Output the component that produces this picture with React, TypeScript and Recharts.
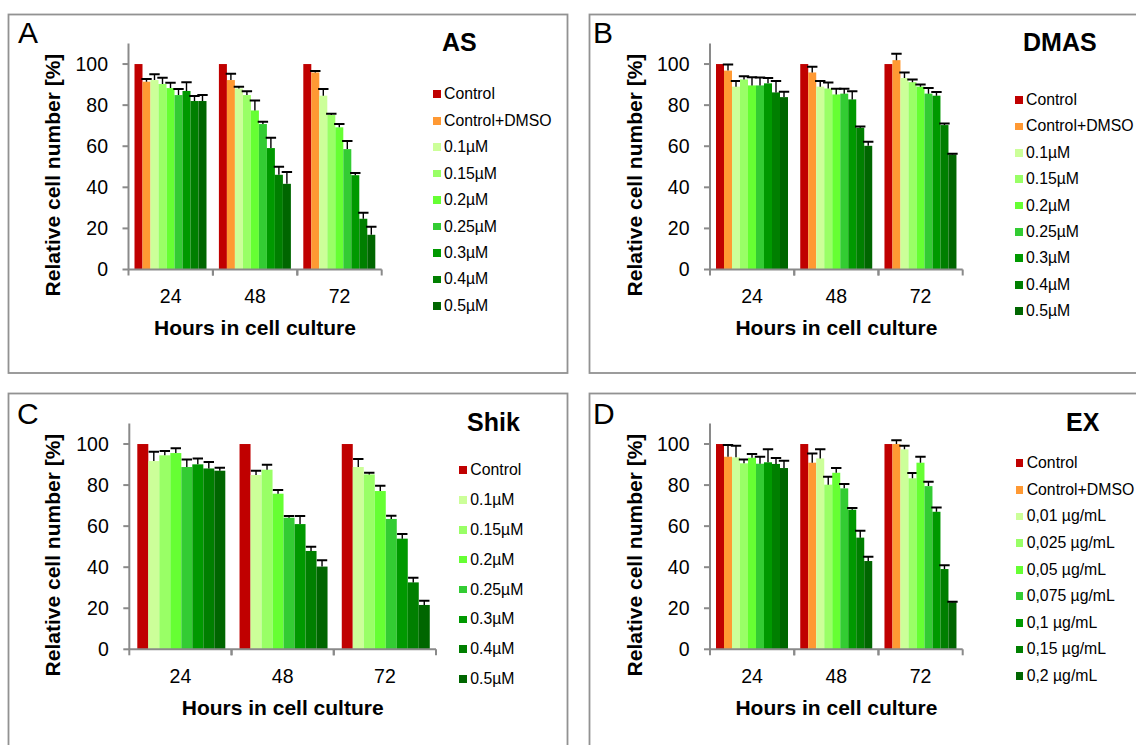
import { BarChart, Bar, XAxis, YAxis, Legend } from 'recharts';

const hours = ['24', '48', '72'];

const red = '#C00000';
const orange = '#FF9933';
const greens = ['#CCFF99', '#99FF66', '#66FF33', '#33CC33', '#009900', '#007F00', '#006600'];

// AS
const asNames = ['Control', 'Control+DMSO', '0.1µM', '0.15µM', '0.2µM', '0.25µM', '0.3µM', '0.4µM', '0.5µM'];
const asMean = [
  [100, 100, 100],
  [91.4, 92.2, 95.9],
  [92.2, 88.1, 84.6],
  [90.3, 84.9, 75.2],
  [88.3, 77.4, 69.2],
  [84.9, 70.8, 58.6],
  [86.9, 59.1, 45.9],
  [82.0, 46.1, 24.7],
  [82.0, 41.7, 16.9],
];
const asErr = [
  [0, 0, 0],
  [1.3, 3.1, 0.7],
  [2.8, 0.8, 3.2],
  [3.0, 1.8, 0.6],
  [2.6, 4.9, 1.6],
  [2.9, 1.1, 3.9],
  [4.2, 5.0, 1.1],
  [2.4, 3.9, 2.9],
  [2.9, 5.7, 3.9],
];

// DMAS
const dmasNames = asNames;
const dmasMean = [
  [100, 100, 100],
  [96.8, 95.9, 101.9],
  [89.0, 89.0, 93.2],
  [92.5, 88.1, 91.2],
  [89.6, 85.2, 89.0],
  [89.6, 85.6, 85.6],
  [90.6, 82.8, 84.6],
  [86.2, 69.0, 70.3],
  [83.9, 60.2, 56.0],
];
const dmasErr = [
  [0, 0, 0],
  [3.0, 2.8, 3.1],
  [2.7, 2.7, 2.7],
  [1.6, 2.9, 1.3],
  [4.0, 2.8, 1.0],
  [3.9, 2.4, 2.7],
  [2.6, 3.9, 1.8],
  [5.5, 0.6, 0.8],
  [2.6, 2.0, 0.3],
];

// Shik (no DMSO control)
const shikNames = ['Control', '0.1µM', '0.15µM', '0.2µM', '0.25µM', '0.3µM', '0.4µM', '0.5µM'];
const shikMean = [
  [100, 100, 100],
  [91.7, 84.9, 88.8],
  [94.5, 87.5, 85.2],
  [95.6, 75.8, 77.1],
  [88.8, 64.1, 63.5],
  [90.1, 61.0, 53.9],
  [88.1, 47.9, 32.6],
  [87.0, 40.3, 21.6],
];
const shikErr = [
  [0, 0, 0],
  [4.5, 2.1, 3.9],
  [2.1, 2.4, 0.8],
  [2.3, 1.8, 2.6],
  [3.7, 0.8, 1.5],
  [2.8, 3.9, 2.3],
  [3.1, 2.1, 2.3],
  [1.5, 3.1, 2.1],
];

// EX
const exNames = ['Control', 'Control+DMSO', '0,01 µg/mL', '0,025 µg/mL', '0,05 µg/mL', '0,075 µg/mL', '0,1 µg/mL', '0,15 µg/mL', '0,2 µg/mL'];
const exMean = [
  [100, 100, 100],
  [93.8, 90.9, 100],
  [93.5, 93.0, 97.4],
  [90.6, 80.2, 83.3],
  [93.3, 86.0, 90.9],
  [90.4, 78.4, 79.5],
  [91.1, 68.0, 67.0],
  [90.3, 54.4, 39.1],
  [88.3, 43.0, 22.9],
];
const exErr = [
  [0, 0, 0],
  [5.7, 4.5, 1.8],
  [5.7, 4.4, 1.8],
  [1.9, 3.9, 2.6],
  [1.9, 2.3, 2.9],
  [3.4, 2.1, 2.1],
  [6.3, 0.8, 2.1],
  [2.9, 3.4, 1.9],
  [3.6, 2.1, 0.3],
];

const yTicks = [0, 20, 40, 60, 80, 100];

const FONT = '"Liberation Sans", Arial, Helvetica, sans-serif';
const AXIS = '#8a8a8a';
const FRAME = '#929292';
const Y_W = 60;
const X_H = 40;

function buildRows(names: string[], mean: number[][], err: number[][]) {
  return hours.map((h, i) => {
    const row: any = { hour: h };
    names.forEach((_, s) => {
      row['v' + s] = mean[s][i];
      row['e' + s] = err[s][i];
    });
    return row;
  });
}

// bar rect plus a one-sided (upper) error bar, scaled from the bar's own height
function barShape(valKey: string, errKey: string) {
  return (p: any) => {
    const { x, y, width, height, fill, payload } = p;
    const v = payload[valKey];
    const e = payload[errKey];
    const len = v ? (e / v) * height : 0;
    const cx = x + width / 2;
    return (
      <g>
        <rect x={x} y={y} width={width} height={height} fill={fill} />
        {e > 0 && (
          <g>
            <line x1={cx} x2={cx} y1={y} y2={y - len} stroke="#000" strokeWidth={1.4} />
            <line x1={cx - 5.2} x2={cx + 5.2} y1={y - len} y2={y - len} stroke="#000" strokeWidth={2} />
          </g>
        )}
      </g>
    );
  };
}

function HourTick(props: any) {
  const { x, y, payload, band } = props;
  const half = payload && payload.offset > 0 ? payload.offset : band / 2;
  return (
    <g>
      <line x1={x - half} x2={x - half} y1={y} y2={y + 6} stroke={AXIS} strokeWidth={2} />
      <line x1={x + half} x2={x + half} y1={y} y2={y + 6} stroke={AXIS} strokeWidth={2} />
      <text x={x} y={y + 33.5} textAnchor="middle" fontSize={19.5} fontFamily={FONT} fill="#000">
        {payload.value}
      </text>
    </g>
  );
}

// legend rows kept in series order (the default sorter orders by label)
function legendContent(rowH: number, names: string[]) {
  return (props: any) => {
    const items = [...(props.payload || [])].sort(
      (a: any, b: any) => names.indexOf(a.value) - names.indexOf(b.value)
    );
    return (
      <div style={{ fontFamily: FONT, fontSize: 15.8, color: '#000' }}>
        {items.map((item: any) => (
          <div key={item.value} style={{ height: rowH, display: 'flex', alignItems: 'center', whiteSpace: 'nowrap' }}>
            <span style={{ display: 'inline-block', width: 7.7, height: 7.7, background: item.color, marginRight: 3.3 }} />
            <span>{item.value}</span>
          </div>
        ))}
      </div>
    );
  };
}

type PanelProps = {
  names: string[];
  mean: number[][];
  err: number[][];
  colors: string[];
  left: number;
  top: number;
  width: number;
  height: number;
  margin: { top: number; right: number; bottom: number; left: number };
  catGap: number;
  legendLeft: number;
  legendTop: number;
  rowH: number;
};

function Panel(p: PanelProps) {
  const rows = buildRows(p.names, p.mean, p.err);
  const band = (p.width - p.margin.left - p.margin.right - Y_W) / hours.length;
  return (
    <div style={{ position: 'absolute', left: p.left, top: p.top }}>
      <BarChart
        width={p.width}
        height={p.height}
        data={rows}
        margin={p.margin}
        barGap={0}
        barCategoryGap={p.catGap}
      >
        <XAxis
          dataKey="hour"
          height={X_H}
          interval={0}
          tickSize={0}
          tickMargin={0}
          tickLine={false}
          axisLine={{ stroke: AXIS, strokeWidth: 2 }}
          tick={(t: any) => <HourTick {...t} band={band} />}
        />
        <YAxis
          width={Y_W}
          domain={[0, 110]}
          allowDataOverflow
          ticks={yTicks}
          interval={0}
          tickSize={6}
          tickMargin={14.5}
          axisLine={{ stroke: AXIS, strokeWidth: 2 }}
          tickLine={{ stroke: AXIS, strokeWidth: 2 }}
          tick={{ fill: '#000', fontSize: 19.5, fontFamily: FONT }}
        />
        {p.names.map((n, s) => (
          <Bar
            key={n}
            dataKey={'v' + s}
            name={n}
            fill={p.colors[s]}
            isAnimationActive={false}
            shape={barShape('v' + s, 'e' + s)}
          />
        ))}
        <Legend
          layout="vertical"
          align="center"
          verticalAlign="middle"
          wrapperStyle={{ left: p.legendLeft, top: p.legendTop }}
          content={legendContent(p.rowH, p.names)}
        />
      </BarChart>
    </div>
  );
}

function YTitle({ x, y }: { x: number; y: number }) {
  return (
    <text x={x} y={y} transform={`rotate(-90 ${x} ${y})`} textAnchor="middle" fontSize={21} fontWeight="bold" fontFamily={FONT}>
      Relative cell number [%]
    </text>
  );
}

function XTitle({ x, y }: { x: number; y: number }) {
  return (
    <text x={x} y={y} textAnchor="middle" fontSize={21} fontWeight="bold" fontFamily={FONT}>
      Hours in cell culture
    </text>
  );
}

export default function App() {
  const fullColors = [red, orange, ...greens];
  const shikColors = [red, ...greens];
  return (
    <div style={{ position: 'absolute', left: 0, top: 0, width: 1136, height: 745, overflow: 'hidden', background: '#fff' }}>
      <svg width={1136} height={745} style={{ position: 'absolute', left: 0, top: 0 }}>
        <rect x={8.5} y={14.5} width={559} height={358.5} fill="none" stroke={FRAME} strokeWidth={1.8} />
        <rect x={589.5} y={14.5} width={600} height={358.5} fill="none" stroke={FRAME} strokeWidth={1.8} />
        <rect x={8.5} y={393.5} width={559} height={420} fill="none" stroke={FRAME} strokeWidth={1.8} />
        <rect x={589.5} y={393.5} width={600} height={420} fill="none" stroke={FRAME} strokeWidth={1.8} />

        <g fontFamily={FONT} fontSize={30} fill="#000">
          <text x={18} y={43.3}>A</text>
          <text x={593} y={43.3}>B</text>
          <text x={17} y={423.5}>C</text>
          <text x={593} y={424}>D</text>
        </g>
        <g fontFamily={FONT} fontSize={25} fontWeight="bold" fill="#000">
          <text x={442} y={50.7}>AS</text>
          <text x={1023} y={50.7}>DMAS</text>
          <text x={467} y={430.5}>Shik</text>
          <text x={1066} y={430.5}>EX</text>
        </g>

        <YTitle x={60} y={175} />
        <YTitle x={641.5} y={175} />
        <YTitle x={60} y={555} />
        <YTitle x={641.5} y={555} />
        <XTitle x={255} y={335} />
        <XTitle x={836.4} y={335} />
        <XTitle x={282.7} y={715} />
        <XTitle x={836.4} y={715} />
      </svg>

      <Panel
        names={asNames} mean={asMean} err={asErr} colors={fullColors}
        left={8} top={14} width={560} height={359}
        margin={{ top: 29.5, right: 186.3, bottom: 63.5, left: 60.5 }}
        catGap={6} legendLeft={425} legendTop={67.1} rowH={26.45}
      />
      <Panel
        names={dmasNames} mean={dmasMean} err={dmasErr} colors={fullColors}
        left={589} top={14} width={547} height={359}
        margin={{ top: 29.5, right: 173.3, bottom: 63.5, left: 61 }}
        catGap={6} legendLeft={426} legendTop={72.8} rowH={26.4}
      />
      <Panel
        names={shikNames} mean={shikMean} err={shikErr} colors={shikColors}
        left={8} top={393} width={560} height={352}
        margin={{ top: 30.5, right: 132, bottom: 55.7, left: 61.3 }}
        catGap={8} legendLeft={451.3} legendTop={62} rowH={29.9}
      />
      <Panel
        names={exNames} mean={exMean} err={exErr} colors={fullColors}
        left={589} top={393} width={547} height={352}
        margin={{ top: 30.5, right: 173.3, bottom: 55.7, left: 61 }}
        catGap={6} legendLeft={426.7} legendTop={57} rowH={26.6}
      />
    </div>
  );
}
